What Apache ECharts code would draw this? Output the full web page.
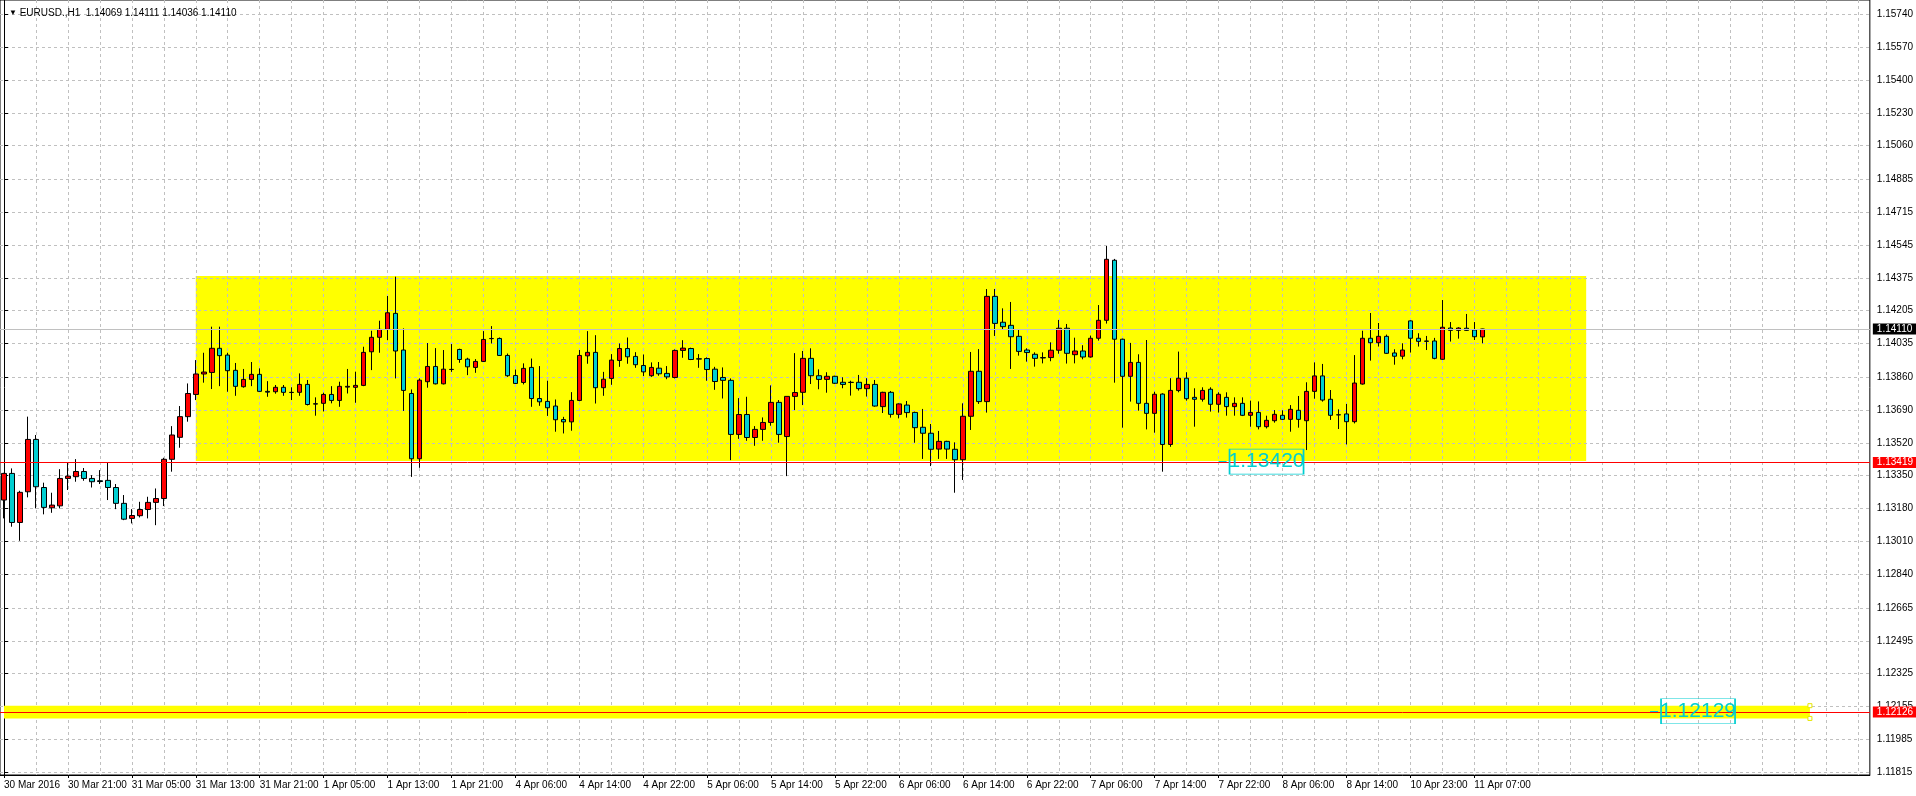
<!DOCTYPE html>
<html>
<head>
<meta charset="utf-8">
<title>EURUSD., H1</title>
<script src="https://cdn.jsdelivr.net/npm/echarts@6/dist/echarts.min.js"></script>
<style>
  html, body { margin: 0; padding: 0; background: #fff; }
  #main { width: 1916px; height: 796px; }
</style>
</head>
<body>
<div id="main"></div>
<script>
// H1 bars, one row per bar: [open, high, low, close]
const candles = [
  [1.13224, 1.13365, 1.13129, 1.13362], [1.13362, 1.13388, 1.13086, 1.13108], [1.13108, 1.13272, 1.13013, 1.13264], [1.13267, 1.13656, 1.13238, 1.13538],
  [1.13538, 1.13561, 1.13181, 1.13293], [1.13289, 1.13314, 1.13150, 1.13186], [1.13184, 1.13262, 1.13158, 1.13198], [1.13194, 1.13384, 1.13181, 1.13336],
  [1.13336, 1.13417, 1.13276, 1.13348], [1.13345, 1.13436, 1.13319, 1.13372], [1.13372, 1.13390, 1.13324, 1.13336], [1.13336, 1.13353, 1.13289, 1.13319],
  [1.13324, 1.13379, 1.13307, 1.13320], [1.13326, 1.13417, 1.13224, 1.13289], [1.13289, 1.13307, 1.13177, 1.13207], [1.13207, 1.13250, 1.13120, 1.13125],
  [1.13129, 1.13177, 1.13103, 1.13144], [1.13143, 1.13215, 1.13134, 1.13175], [1.13175, 1.13241, 1.13129, 1.13212], [1.13212, 1.13284, 1.13094, 1.13232],
  [1.13232, 1.13443, 1.13193, 1.13435], [1.13435, 1.13607, 1.13371, 1.13561], [1.13549, 1.13711, 1.13495, 1.13656], [1.13656, 1.13828, 1.13630, 1.13776],
  [1.13771, 1.13949, 1.13742, 1.13877], [1.13877, 1.13987, 1.13832, 1.13887], [1.13885, 1.14122, 1.13799, 1.14010], [1.14010, 1.14122, 1.13814, 1.13972],
  [1.13975, 1.13987, 1.13785, 1.13894], [1.13896, 1.13934, 1.13764, 1.13813], [1.13811, 1.13903, 1.13806, 1.13849], [1.13849, 1.13939, 1.13814, 1.13875],
  [1.13875, 1.13906, 1.13785, 1.13787], [1.13787, 1.13840, 1.13759, 1.13783], [1.13785, 1.13820, 1.13775, 1.13808], [1.13808, 1.13820, 1.13764, 1.13782],
  [1.13782, 1.13808, 1.13742, 1.13781], [1.13782, 1.13880, 1.13764, 1.13823], [1.13823, 1.13846, 1.13714, 1.13719], [1.13723, 1.13756, 1.13661, 1.13721],
  [1.13725, 1.13780, 1.13683, 1.13771], [1.13771, 1.13814, 1.13725, 1.13740], [1.13740, 1.13837, 1.13707, 1.13813], [1.13809, 1.13903, 1.13776, 1.13813],
  [1.13808, 1.13889, 1.13728, 1.13818], [1.13818, 1.14018, 1.13814, 1.13989], [1.13992, 1.14101, 1.13897, 1.14067], [1.14067, 1.14153, 1.13987, 1.14108],
  [1.14108, 1.14281, 1.14052, 1.14194], [1.14191, 1.14381, 1.13854, 1.13996], [1.14001, 1.14113, 1.13686, 1.13792], [1.13776, 1.13797, 1.13344, 1.13438],
  [1.13438, 1.13854, 1.13391, 1.13845], [1.13837, 1.14037, 1.13806, 1.13916], [1.13916, 1.14011, 1.13823, 1.13826], [1.13826, 1.14001, 1.13823, 1.13902],
  [1.13900, 1.14032, 1.13888, 1.13901], [1.14004, 1.14008, 1.13935, 1.13952], [1.13954, 1.13961, 1.13871, 1.13914], [1.13911, 1.13954, 1.13883, 1.13942],
  [1.13942, 1.14099, 1.13939, 1.14056], [1.14061, 1.14125, 1.14035, 1.14060], [1.14061, 1.14066, 1.13970, 1.13973], [1.13973, 1.13983, 1.13862, 1.13868],
  [1.13869, 1.13900, 1.13825, 1.13828], [1.13833, 1.13932, 1.13823, 1.13906], [1.13911, 1.13957, 1.13707, 1.13750], [1.13750, 1.13918, 1.13712, 1.13733],
  [1.13735, 1.13842, 1.13660, 1.13702], [1.13711, 1.13745, 1.13578, 1.13640], [1.13641, 1.13655, 1.13569, 1.13629], [1.13629, 1.13783, 1.13583, 1.13740],
  [1.13740, 1.14001, 1.13736, 1.13973], [1.13971, 1.14099, 1.13930, 1.13989], [1.13989, 1.14078, 1.13724, 1.13806], [1.13806, 1.13888, 1.13764, 1.13850],
  [1.13854, 1.13980, 1.13821, 1.13949], [1.13947, 1.14035, 1.13914, 1.14009], [1.14009, 1.14066, 1.13930, 1.13966], [1.13968, 1.13990, 1.13909, 1.13925],
  [1.13921, 1.13978, 1.13866, 1.13888], [1.13868, 1.13937, 1.13862, 1.13911], [1.13907, 1.13939, 1.13868, 1.13878], [1.13880, 1.13918, 1.13850, 1.13862],
  [1.13859, 1.14004, 1.13854, 1.13999], [1.13999, 1.14052, 1.13961, 1.14011], [1.14009, 1.14013, 1.13949, 1.13952], [1.13956, 1.13980, 1.13909, 1.13954],
  [1.13957, 1.13963, 1.13842, 1.13900], [1.13902, 1.13914, 1.13795, 1.13838], [1.13859, 1.13911, 1.13750, 1.13844], [1.13844, 1.13854, 1.13431, 1.13564],
  [1.13564, 1.13752, 1.13541, 1.13667], [1.13667, 1.13759, 1.13531, 1.13548], [1.13548, 1.13607, 1.13505, 1.13590], [1.13590, 1.13652, 1.13531, 1.13626],
  [1.13626, 1.13818, 1.13609, 1.13730], [1.13730, 1.13742, 1.13521, 1.13564], [1.13553, 1.13761, 1.13348, 1.13761], [1.13761, 1.13985, 1.13690, 1.13781],
  [1.13782, 1.13996, 1.13716, 1.13958], [1.13958, 1.14010, 1.13825, 1.13868], [1.13868, 1.13901, 1.13798, 1.13849], [1.13849, 1.13886, 1.13780, 1.13865],
  [1.13865, 1.13868, 1.13825, 1.13829], [1.13834, 1.13860, 1.13803, 1.13823], [1.13834, 1.13842, 1.13765, 1.13833], [1.13834, 1.13872, 1.13791, 1.13801],
  [1.13801, 1.13855, 1.13760, 1.13823], [1.13823, 1.13846, 1.13708, 1.13711], [1.13708, 1.13785, 1.13675, 1.13782], [1.13782, 1.13789, 1.13651, 1.13668],
  [1.13668, 1.13725, 1.13647, 1.13722], [1.13716, 1.13737, 1.13651, 1.13677], [1.13678, 1.13682, 1.13521, 1.13599], [1.13601, 1.13696, 1.13437, 1.13570],
  [1.13570, 1.13618, 1.13400, 1.13487], [1.13488, 1.13582, 1.13437, 1.13528], [1.13528, 1.13531, 1.13437, 1.13488], [1.13487, 1.13523, 1.13262, 1.13433],
  [1.13433, 1.13725, 1.13328, 1.13658], [1.13658, 1.13991, 1.13587, 1.13891], [1.13891, 1.14006, 1.13722, 1.13734], [1.13734, 1.14317, 1.13677, 1.14279],
  [1.14279, 1.14317, 1.14074, 1.14139], [1.14145, 1.14217, 1.14110, 1.14122], [1.14129, 1.14250, 1.13903, 1.14070], [1.14072, 1.14110, 1.13972, 1.13994],
  [1.14001, 1.14010, 1.13941, 1.13988], [1.13979, 1.13989, 1.13915, 1.13958], [1.13962, 1.13989, 1.13932, 1.13960], [1.13962, 1.14041, 1.13943, 1.14000],
  [1.14000, 1.14157, 1.13982, 1.14114], [1.14114, 1.14136, 1.13931, 1.13984], [1.13977, 1.14065, 1.13932, 1.13996], [1.13996, 1.14026, 1.13953, 1.13965],
  [1.13965, 1.14076, 1.13962, 1.14062], [1.14062, 1.14234, 1.14050, 1.14155], [1.14155, 1.14540, 1.14138, 1.14471], [1.14466, 1.14473, 1.13832, 1.14057],
  [1.14057, 1.14060, 1.13599, 1.13865], [1.13865, 1.14038, 1.13734, 1.13937], [1.13937, 1.13979, 1.13687, 1.13725], [1.13725, 1.14053, 1.13590, 1.13673],
  [1.13673, 1.13785, 1.13573, 1.13772], [1.13773, 1.13777, 1.13371, 1.13512], [1.13512, 1.13855, 1.13500, 1.13792], [1.13791, 1.13993, 1.13782, 1.13855],
  [1.13855, 1.13886, 1.13739, 1.13749], [1.13756, 1.13803, 1.13604, 1.13746], [1.13746, 1.13808, 1.13734, 1.13792], [1.13798, 1.13808, 1.13682, 1.13720],
  [1.13720, 1.13782, 1.13677, 1.13772], [1.13756, 1.13782, 1.13661, 1.13708], [1.13708, 1.13756, 1.13661, 1.13725], [1.13725, 1.13756, 1.13659, 1.13663],
  [1.13663, 1.13739, 1.13604, 1.13678], [1.13678, 1.13735, 1.13590, 1.13604], [1.13604, 1.13661, 1.13595, 1.13637], [1.13635, 1.13690, 1.13625, 1.13668],
  [1.13663, 1.13689, 1.13639, 1.13642], [1.13642, 1.13716, 1.13578, 1.13694], [1.13689, 1.13763, 1.13599, 1.13642], [1.13635, 1.13834, 1.13483, 1.13787],
  [1.13787, 1.13937, 1.13749, 1.13867], [1.13867, 1.13929, 1.13734, 1.13742], [1.13746, 1.13794, 1.13639, 1.13663], [1.13666, 1.13694, 1.13592, 1.13665],
  [1.13670, 1.13722, 1.13512, 1.13630], [1.13630, 1.13975, 1.13621, 1.13830], [1.13825, 1.14101, 1.13822, 1.14062], [1.14062, 1.14193, 1.13946, 1.14039],
  [1.14039, 1.14141, 1.14019, 1.14072], [1.14072, 1.14081, 1.13981, 1.13984], [1.13986, 1.14005, 1.13925, 1.13969], [1.13969, 1.14036, 1.13953, 1.14001],
  [1.14152, 1.14155, 1.13988, 1.14062], [1.14062, 1.14088, 1.14019, 1.14046], [1.14048, 1.14074, 1.14001, 1.14046], [1.14048, 1.14064, 1.13953, 1.13958],
  [1.13953, 1.14260, 1.13950, 1.14119], [1.14115, 1.14146, 1.14045, 1.14103], [1.14103, 1.14119, 1.14060, 1.14115], [1.14114, 1.14188, 1.14100, 1.14103],
  [1.14105, 1.14146, 1.14053, 1.14070], [1.14069, 1.14111, 1.14036, 1.14110]
];

// time scale labels, one every 8 bars
const timeLabels = [
  '30 Mar 2016', '30 Mar 21:00', '31 Mar 05:00', '31 Mar 13:00', '31 Mar 21:00', '1 Apr 05:00',
  '1 Apr 13:00', '1 Apr 21:00', '4 Apr 06:00', '4 Apr 14:00', '4 Apr 22:00', '5 Apr 06:00',
  '5 Apr 14:00', '5 Apr 22:00', '6 Apr 06:00', '6 Apr 14:00', '6 Apr 22:00', '7 Apr 06:00',
  '7 Apr 14:00', '7 Apr 22:00', '8 Apr 06:00', '8 Apr 14:00', '10 Apr 23:00', '11 Apr 07:00'
];

// price scale labels
const priceTicks = [
  1.15740, 1.15570, 1.15400, 1.15230, 1.15060, 1.14885, 1.14715, 1.14545, 1.14375, 1.14205,
  1.14035, 1.13860, 1.13690, 1.13520, 1.13350, 1.13180, 1.13010, 1.12840, 1.12665, 1.12495,
  1.12325, 1.12155, 1.11985, 1.11815
];

const symbolTitle = 'EURUSD.,H1  1.14069 1.14111 1.14036 1.14110';
const bidPrice = 1.14110;
const levelLines = [1.13419, 1.12126];

// chart objects: [bar, price] corners
const rangeBox = [[24, 1.14385], [198, 1.13426]];
const lowerBand = [[0, 1.12159], [226, 1.12093]];
const textLabels = [
  { text: '1.13420', at: [157.8, 1.13423], tail: [152, 153.3] },
  { text: '1.12129', at: [211.9, 1.12130], tail: [206, 207.3] }
];

const barSlots = 234;          // bars that fit the window incl. the empty shift on the right
const priceMin = 1.11800, priceMax = 1.15814;

const slots = [];
for (let i = 0; i < barSlots; i++) slots.push(String(i));
const gridSteps = [];
for (let i = 0; i < barSlots; i += 4) gridSteps.push(i);
const labelSteps = timeLabels.map((_, k) => k * 8);

const BULL = '#ff0000', BEAR = '#00ced1', GRID = '#c0c0c0', FONT = 'Liberation Sans';

const chart = echarts.init(document.getElementById('main'));

const option = {
  animation: false,
  backgroundColor: '#fff',
  textStyle: { fontFamily: FONT },
  title: {
    text: '{t|▼} ' + symbolTitle,
    left: 4,
    top: 3,
    textStyle: {
      fontSize: 10, fontWeight: 'normal', color: '#000', fontFamily: FONT,
      rich: { t: { fontSize: 8, color: '#000' } }
    }
  },
  grid: { left: 0, right: 44, top: 0, bottom: 21, show: true, borderColor: '#000', borderWidth: 1 },
  xAxis: [
    {
      type: 'category',
      data: slots,
      boundaryGap: true,
      axisLine: { show: false },
      axisLabel: { show: false },
      splitLine: { show: false },
      axisTick: {
        show: true,
        alignWithLabel: true,
        interval: (i) => i % 8 === 0 && i <= labelSteps[labelSteps.length - 1],
        length: 3,
        lineStyle: { color: '#000' }
      }
    },
    {
      type: 'value',
      min: -0.5,
      max: barSlots - 0.5,
      position: 'bottom',
      z: 1.5,
      axisLine: { show: true, lineStyle: { color: '#000' } },
      axisTick: { show: false, customValues: gridSteps },
      axisLabel: {
        customValues: labelSteps,
        formatter: (v) => timeLabels[Math.round(v / 8)] || '',
        align: 'left',
        fontSize: 10,
        color: '#000',
        margin: 5
      },
      splitLine: { show: true, lineStyle: { color: GRID, type: [3, 3], width: 1 } }
    }
  ],
  yAxis: {
    type: 'value',
    position: 'right',
    min: priceMin,
    max: priceMax,
    z: 1.5,
    axisLine: { show: true, lineStyle: { color: '#000' } },
    axisTick: { show: true, customValues: priceTicks, length: 4, lineStyle: { color: '#000' } },
    axisLabel: {
      customValues: priceTicks,
      formatter: (v) => v.toFixed(5),
      fontSize: 10,
      color: '#000',
      margin: 7
    },
    splitLine: { show: true, lineStyle: { color: GRID, type: [3, 3], width: 1 } }
  },
  series: [
    {
      type: 'candlestick',
      xAxisIndex: 0,
      yAxisIndex: 0,
      barWidth: 5,
      silent: true,
      data: candles.map(c => [c[0], c[3], c[2], c[1]]),
      itemStyle: {
        color: BULL,
        color0: BEAR,
        borderColor: '#000',
        borderColor0: '#000',
        borderColorDoji: '#000',
        borderWidth: 1
      },
      markArea: {
        silent: true,
        z: 1,
        itemStyle: { color: '#ffff00', opacity: 1 },
        data: [[{ coord: rangeBox[0] }, { coord: rangeBox[1] }]]
      },
      markLine: {
        silent: true,
        precision: 5,
        symbol: ['none', 'none'],
        animation: false,
        label: {
          show: true,
          position: 'end',
          distance: 3,
          fontSize: 10,
          color: '#fff',
          padding: [1, 4, 0, 4],
          formatter: (p) => Number(p.value).toFixed(5)
        },
        data: [
          { yAxis: bidPrice, lineStyle: { color: GRID, type: 'solid', width: 1 }, label: { backgroundColor: '#000' } },
          ...levelLines.map(v => ({
            yAxis: v,
            lineStyle: { color: '#ff0000', type: 'solid', width: 1 },
            label: { backgroundColor: '#ff0000' }
          }))
        ]
      }
    },
    {
      // foreground objects: lower band, text labels
      type: 'line',
      xAxisIndex: 0,
      yAxisIndex: 0,
      data: [],
      silent: true,
      markArea: {
        silent: true,
        z: 3,
        itemStyle: { color: '#ffff00', opacity: 1 },
        data: [[{ coord: lowerBand[0] }, { coord: lowerBand[1] }]]
      },
      markLine: {
        silent: true,
        precision: 5,
        z: 4,
        symbol: ['none', 'none'],
        label: { show: false },
        lineStyle: { color: BEAR, type: 'solid', width: 1 },
        data: textLabels.map(t => [
          { coord: [t.tail[0], t.at[1]] },
          { coord: [t.tail[1], t.at[1]] }
        ])
      },
      markPoint: {
        silent: true,
        z: 6,
        symbol: 'rect',
        symbolSize: [74, 25],
        itemStyle: { color: 'rgba(0,0,0,0)', borderColor: BEAR, borderWidth: 1 },
        label: {
          show: true,
          position: 'inside',
          color: BEAR,
          fontSize: 21,
          fontFamily: FONT,
          formatter: '{b}'
        },
        data: textLabels.map(t => ({ name: t.text, coord: t.at }))
          .concat([
            { name: '', coord: [lowerBand[1][0], lowerBand[0][1]], symbolSize: 4, itemStyle: { color: '#fff', borderColor: '#e6e600' } },
            { name: '', coord: [lowerBand[1][0], lowerBand[1][1]], symbolSize: 4, itemStyle: { color: '#fff', borderColor: '#e6e600' } }
          ])
      }
    }
  ]
};

chart.setOption(option);
</script>
</body>
</html>
